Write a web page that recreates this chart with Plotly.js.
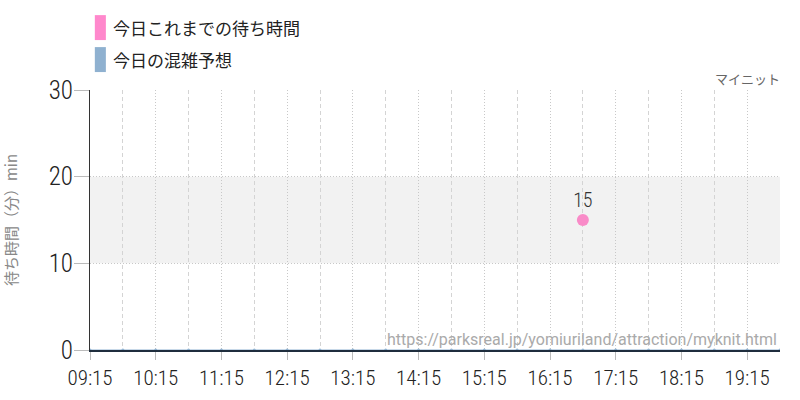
<!DOCTYPE html>
<html>
<head>
<meta charset="utf-8">
<script src="https://cdn.plot.ly/plotly-3.0.1.min.js"></script>
<style>
body{margin:0;}
#chart{width:800px;height:400px;}
.xtick text, .ytick text, .textpoint text{font-stretch:75% !important;}
</style>
</head>
<body>
<div id="chart"></div>
<script>
var day = '2024-05-01 ';
var waitTimes = ['16:45'];
var waitValues = [15];
var forecastTimes = ['09:15','09:45','10:15','10:45','11:15','11:45','12:15','12:45','13:15','13:45','14:15',
  '14:45','15:15','15:45','16:15','16:45','17:15','17:45','18:15','18:45','19:15','19:45'];
var forecastValues = [0,0,0,0,0,0,0,0,0,0,0,0,0,0,0,0,0,0,0,0,0,0];
var legendNames = ['今日これまでの待ち時間', '今日の混雑予想'];
var tickFont = 'Roboto, sans-serif';
var jpFont = 'Noto Sans CJK JP, sans-serif';

chart = document.getElementById('chart');

Plotly.newPlot(chart, [{
  x: forecastTimes.map(function(t){ return day + t; }),
  y: forecastValues,
  type: 'scatter',
  mode: 'lines+markers',
  line: {color: '#8fb1d0', width: 1},
  marker: {color: '#8fb1d0', size: 3},
  hoverinfo: 'skip'
}, {
  x: waitTimes.map(function(t){ return day + t; }),
  y: waitValues,
  type: 'scatter',
  mode: 'markers+text',
  text: waitValues.map(String),
  textposition: 'top center',
  textfont: {family: tickFont, size: 20, color: '#333', weight: 300},
  marker: {color: '#f98bc8', size: 12}
}], {
  width: 800, height: 400,
  showlegend: false,
  margin: {l: 90, r: 20, t: 90, b: 50},
  paper_bgcolor: '#fff',
  plot_bgcolor: '#fff',
  xaxis: {
    type: 'date',
    range: [day + '09:15', day + '19:45'],
    tick0: day + '09:15',
    dtick: 3600000,
    tickformat: '%H:%M',
    tickfont: {family: tickFont, size: 21, color: '#222', weight: 300},
    ticks: 'outside', ticklen: 8, tickcolor: '#bbb',
    showgrid: true, gridcolor: '#c8c8c8', griddash: '1px,2px',
    minor: {tick0: day + '09:45', dtick: 3600000, showgrid: true, gridcolor: '#d4d4d4', griddash: '4px,3px'},
    showline: true, linecolor: '#1f2d3d', linewidth: 2,
    zeroline: false
  },
  yaxis: {
    range: [0, 30],
    dtick: 10,
    tickfont: {family: tickFont, size: 25, color: '#222', weight: 300},
    ticks: 'outside', ticklen: 15, tickcolor: '#bbb',
    ticklabelstandoff: -4,
    showgrid: true, gridcolor: '#c8c8c8', griddash: '1px,2px',
    showline: true, linecolor: '#333', linewidth: 1,
    zeroline: false,
    title: {text: '待ち時間（分）min', font: {family: jpFont, size: 15, color: '#888'}, standoff: 28}
  },
  shapes: [
    {type: 'rect', xref: 'paper', yref: 'y', x0: 0, x1: 1, y0: 10, y1: 20,
      fillcolor: '#f2f2f2', line: {width: 0}, layer: 'below'},
    {type: 'rect', xref: 'paper', yref: 'paper', x0: 0.007, x1: 0.023, y0: 1.192, y1: 1.288,
      fillcolor: '#ff88cc', line: {width: 0}},
    {type: 'rect', xref: 'paper', yref: 'paper', x0: 0.007, x1: 0.023, y0: 1.069, y1: 1.165,
      fillcolor: '#8fb1d0', line: {width: 0}}
  ],
  annotations: [
    {xref: 'paper', yref: 'paper', x: 0.03, y: 1.242, xanchor: 'left', yanchor: 'middle', showarrow: false,
      text: legendNames[0], font: {family: jpFont, size: 17, color: '#222'}},
    {xref: 'paper', yref: 'paper', x: 0.03, y: 1.119, xanchor: 'left', yanchor: 'middle', showarrow: false,
      text: legendNames[1], font: {family: jpFont, size: 17, color: '#222'}},
    {xref: 'paper', yref: 'paper', x: 1.003, y: 1.0, xanchor: 'right', yanchor: 'bottom', showarrow: false,
      text: 'マイニット', font: {family: jpFont, size: 13, color: '#666'}},
    {xref: 'paper', yref: 'paper', x: 0.998, y: -0.005, xanchor: 'right', yanchor: 'bottom', showarrow: false,
      text: 'https://parksreal.jp/yomiuriland/attraction/myknit.html', font: {family: 'Roboto, sans-serif', size: 16, color: '#aaa'}}
  ]
}, {displayModeBar: false, staticPlot: true});
</script>
</body>
</html>
